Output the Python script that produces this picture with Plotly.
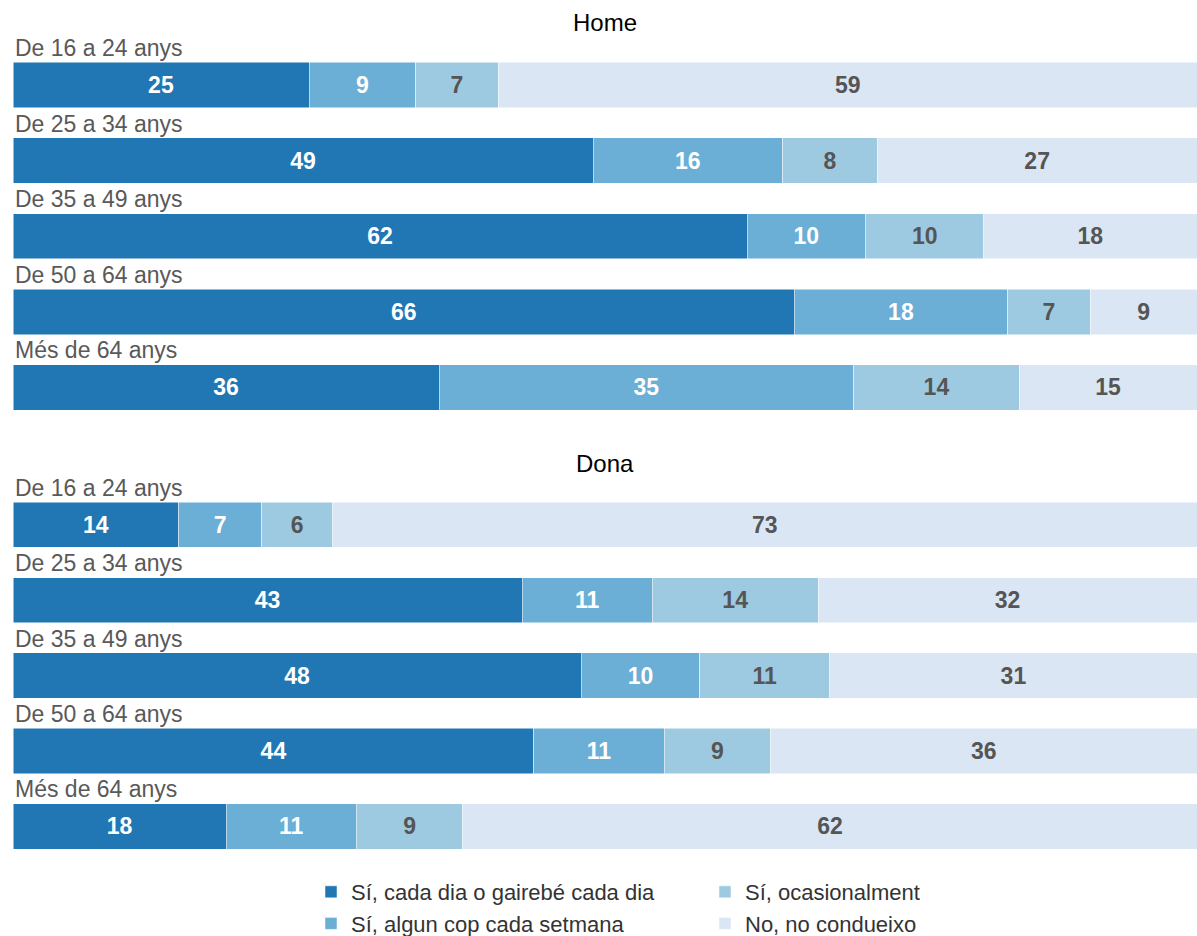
import plotly.graph_objects as go

ages = ["De 16 a 24 anys", "De 25 a 34 anys", "De 35 a 49 anys",
        "De 50 a 64 anys", "Més de 64 anys"]
panels = ["Home", "Dona"]

series = ["Sí, cada dia o gairebé cada dia", "Sí, algun cop cada setmana",
          "Sí, ocasionalment", "No, no condueixo"]
colors = ["#2077b4", "#6baed6", "#9ecae1", "#dbe6f5"]
text_colors = ["white", "white", "#555555", "#555555"]

home = {
    series[0]: [25, 49, 62, 66, 36],
    series[1]: [9, 16, 10, 18, 35],
    series[2]: [7, 8, 10, 7, 14],
    series[3]: [59, 27, 18, 9, 15],
}
dona = {
    series[0]: [14, 43, 48, 44, 18],
    series[1]: [7, 11, 10, 11, 11],
    series[2]: [6, 14, 11, 9, 9],
    series[3]: [73, 32, 31, 36, 62],
}

FONT = "Liberation Sans, Arial, sans-serif"
W, H = 1197, 936


def dom(top, bottom):
    # pixel rows (from top of figure) -> paper fractions
    return [1 - bottom / H, 1 - top / H]


fig = go.Figure()

for p, data in enumerate([home, dona]):
    xa = "x" if p == 0 else "x2"
    ya = "y" if p == 0 else "y2"
    for i, s in enumerate(series):
        fig.add_trace(go.Bar(
            y=ages, x=data[s], orientation="h",
            name=s, legendgroup=s, showlegend=(p == 0),
            legend="legend" if i < 2 else "legend2",
            marker=dict(color=colors[i], line=dict(color="white", width=0.5)),
            width=0.6,
            text=data[s], textposition="inside", insidetextanchor="middle",
            textfont=dict(color=text_colors[i], size=23, family=FONT, weight="bold"),
            xaxis=xa, yaxis=ya,
            hovertemplate="%{y}<br>" + s + ": %{x}%<extra></extra>",
        ))
    for a in ages:
        fig.add_annotation(
            x=0, y=a, xref=xa, yref=ya,
            text=a, showarrow=False, xanchor="left", yanchor="middle",
            yshift=37, font=dict(size=23, color="#595959", family=FONT),
        )

legend_style = dict(
    xanchor="left", yanchor="top", orientation="v",
    font=dict(size=22, color="#333333", family=FONT),
    tracegroupgap=0, itemwidth=30, bgcolor="rgba(0,0,0,0)",
)

cat_range = [len(ages) - 0.5, -0.5]

fig.update_layout(
    barmode="stack",
    width=W, height=H,
    margin=dict(l=13, r=0, t=0, b=0, autoexpand=False),
    plot_bgcolor="white", paper_bgcolor="white",
    font=dict(family=FONT),
    xaxis=dict(range=[0, 100], visible=False),
    xaxis2=dict(range=[0, 100], visible=False, anchor="y2"),
    yaxis=dict(domain=dom(47.2, 425.3), range=cat_range, visible=False),
    yaxis2=dict(domain=dom(487, 864.2), range=cat_range, visible=False,
                anchor="x2"),
    legend=dict(x=(311 - 13) / 1184, y=1 - 871 / H, **legend_style),
    legend2=dict(x=(705 - 13) / 1184, y=1 - 871 / H, **legend_style),
)

for title, top_px in zip(panels, [22, 463]):
    fig.add_annotation(
        x=0.5, y=1 - top_px / H, xref="paper", yref="paper",
        text=title, showarrow=False, xanchor="center", yanchor="middle",
        font=dict(size=24, color="black", family=FONT),
    )

# page has default 8px body margin; drop it so the figure fills the window
fig.write_html("out.html", config={"displayModeBar": False},
               post_script="document.body.style.margin='0';")
